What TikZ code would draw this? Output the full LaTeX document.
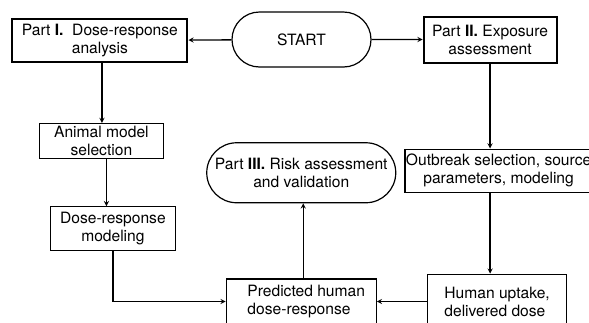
\documentclass[tikz,border=0pt]{standalone}
\usepackage{fontspec}
\setmainfont{TeX Gyre Heros}
\usetikzlibrary{positioning,shapes.misc}

\begin{document}
\begin{tikzpicture}[x=1pt, y=-1pt, font=\fontsize{15.6}{18}\selectfont,
	procbox/.style={rectangle, draw, line width=1.2pt, inner sep=1pt},
	partbox/.style={rectangle, draw, line width=2pt, inner sep=1pt, align=center},
	termcap/.style={rounded rectangle, draw, line width=1.2pt, inner sep=1pt, align=center},
	flow/.style={line width=1.3pt, -stealth}]
	\useasboundingbox (0,0) rectangle (589,322);

	\node[termcap, minimum width=141pt, minimum height=55pt] (start) at (301.5,39.5) {START};
	\node[partbox, minimum width=175pt, minimum height=43pt, left=43pt of start, yshift=-1pt] (p1) {Part \textbf{I.}\ \ Dose-response\\analysis};
	\node[partbox, minimum width=133pt, minimum height=46pt, right=51pt of start] (p2) {Part \textbf{II.} Exposure\\assessment};

	\node[procbox, align=center, minimum width=124pt, minimum height=35pt, below=60pt of p1, xshift=1.5pt] (animal) {Animal model\\selection};
	\node[procbox, align=center, minimum width=125pt, minimum height=44pt, below=47pt of animal, xshift=11.5pt] (dosemod) {Dose-response\\modeling};

	\node[procbox, align=center, minimum width=186pt, minimum height=43pt, below=85pt of p2, xshift=8.5pt] (outbreak) {Outbreak selection, source\\parameters, modeling};
	\node[procbox, line width=1.5pt, align=left, minimum width=139pt, minimum height=54pt, below=81pt of outbreak, xshift=-1.5pt] (human) {Human uptake,\\delivered dose};
	\node[procbox, align=left, minimum width=150pt, minimum height=45pt, left=50pt of human] (pred) {\hspace{10pt}Predicted human\\\hspace{10pt}dose-response};
	\node[termcap, minimum width=191pt, minimum height=60pt, above=75pt of pred] (p3) {Part \textbf{III.} Risk assessment\\and validation};

	\draw[flow] (start) -- (p1);
	\draw[flow] (start) -- (p2);
	\draw[flow] ([xshift=2pt]p1.south) -- ([xshift=2pt]p1.south |- animal.north);
	\draw[flow] ([xshift=5pt]animal.south) -- ([xshift=5pt]animal.south |- dosemod.north);
	\draw[flow] (dosemod.south) |- (pred.west);
	\draw[flow] ([xshift=2pt]pred.north) -- ([xshift=2pt]pred.north |- p3.south);
	\draw[flow] (p2.south) -- (p2.south |- outbreak.north);
	\draw[flow] (p2.south |- outbreak.south) -- (p2.south |- human.north);
	\draw[flow] (human) -- (pred);
\end{tikzpicture}
\end{document}
